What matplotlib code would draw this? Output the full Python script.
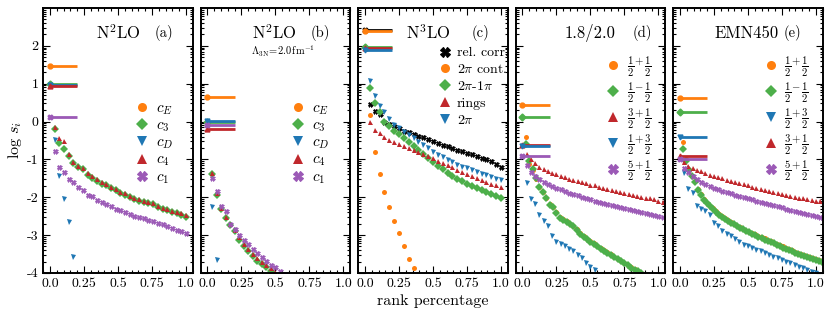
import numpy as np
import matplotlib.pyplot as plt
from matplotlib.lines import Line2D
from matplotlib.ticker import FixedLocator, MultipleLocator

plt.rcParams['font.family'] = 'serif'
plt.rcParams['font.serif'] = ['cmr10', 'DejaVu Serif']
plt.rcParams['mathtext.fontset'] = 'cm'
plt.rcParams['axes.unicode_minus'] = False

orange, green, blue, red, purple, black = '#ff7f0e', '#4daf4a', '#1f77b4', '#c0282c', '#9b59b6', 'k'

# ---------------- panel (a) : N2LO
a_labels = [r'$c_E$', r'$c_3$', r'$c_D$', r'$c_4$', r'$c_1$']
a_top = [1.47, 0.98, 0.97, 0.93, 0.12]
a_n = 29
a_cE = []
a_c3 = [-0.20, -0.56, -0.73, -0.90, -1.10, -1.20, -1.26, -1.40, -1.48, -1.57, -1.64, -1.69, -1.75, -1.82,
        -1.88, -1.93, -2.00, -2.06, -2.09, -2.12, -2.16, -2.19, -2.25, -2.31, -2.35, -2.40, -2.43, -2.46, -2.51]
a_cD = [-0.50, -1.45, -2.06, -2.66, -3.58]
a_c4 = [-0.14, -0.44, -0.51, -0.86, -1.07, -1.17, -1.22, -1.37, -1.44, -1.53, -1.61, -1.66, -1.72, -1.79,
        -1.85, -1.90, -1.97, -2.03, -2.06, -2.09, -2.13, -2.16, -2.22, -2.28, -2.32, -2.37, -2.40, -2.43, -2.48]
a_c1 = [-0.77, -1.19, -1.33, -1.51, -1.61, -1.72, -1.81, -1.93, -1.97, -2.08, -2.13, -2.17, -2.22, -2.31,
        -2.35, -2.40, -2.44, -2.50, -2.53, -2.56, -2.61, -2.64, -2.68, -2.72, -2.77, -2.81, -2.86, -2.90, -2.94]

# ---------------- panel (b) : N2LO, Lambda_3N = 2.0 fm^-1
b_top = [0.66, -0.02, 0.02, -0.20, -0.09]
b_n = 30
b_cE = []
b_c3 = [-1.39, -1.94, -2.32, -2.56, -2.74, -2.90, -3.12, -3.30, -3.43, -3.55, -3.68, -3.77, -3.85, -3.95, -4.05]
b_cD = [-2.26, -3.67]
b_c4 = [-1.35, -1.90, -2.28, -2.53, -2.70, -2.87, -3.05, -3.24, -3.36, -3.49, -3.61, -3.70, -3.79, -3.88, -3.97]
b_c1 = [-1.50, -1.84, -2.22, -2.36, -2.70, -2.85, -2.99, -3.12, -3.23, -3.37, -3.48, -3.58, -3.68, -3.79,
        -3.85, -3.94, -4.02]

# ---------------- panel (c) : N3LO
c_labels = ['rel. corr.', r'$2\pi$ cont.', r'$2\pi$-$1\pi$', 'rings', r'$2\pi$']
c_top = [2.43, 2.39, 1.98, 1.95, 1.89]
c_n = 28
c_rel = [0.47, 0.29, 0.20, 0.00, -0.06, -0.12, -0.18, -0.24, -0.28, -0.33, -0.37, -0.42, -0.47, -0.52,
         -0.56, -0.61, -0.65, -0.70, -0.74, -0.79, -0.83, -0.87, -0.92, -0.96, -1.00, -1.05, -1.12, -1.21]
c_cont = [0.16, -0.80, -1.39, -1.85, -2.26, -2.62, -2.94, -3.30, -3.64, -3.86]
c_2pi1pi = [0.89, 0.49, 0.26, 0.00, -0.12, -0.24, -0.33, -0.44, -0.53, -0.64, -0.76, -0.86, -0.97, -1.08,
            -1.17, -1.26, -1.35, -1.44, -1.51, -1.58, -1.64, -1.70, -1.76, -1.81, -1.86, -1.91, -1.96, -2.01]
c_rings = [-0.02, -0.22, -0.30, -0.42, -0.48, -0.53, -0.60, -0.64, -0.70, -0.75, -0.80, -0.86, -0.92, -0.97,
           -1.04, -1.10, -1.15, -1.21, -1.28, -1.33, -1.39, -1.44, -1.50, -1.55, -1.60, -1.64, -1.69, -1.73]
c_2pi = [1.06, 0.67, 0.41, 0.25, 0.07, -0.09, -0.18, -0.28, -0.36, -0.44, -0.53, -0.62, -0.71, -0.80,
         -0.89, -0.95, -1.02, -1.08, -1.15, -1.20, -1.24, -1.29, -1.33, -1.38, -1.42, -1.47, -1.51, -1.55]

# ---------------- panel (d) : 1.8/2.0 (partial waves)
d_labels = [r'$\frac{1}{2}^{+}\frac{1}{2}$', r'$\frac{1}{2}^{-}\frac{1}{2}$', r'$\frac{3}{2}^{+}\frac{1}{2}$',
            r'$\frac{1}{2}^{+}\frac{3}{2}$', r'$\frac{5}{2}^{+}\frac{1}{2}$']
d_top = [0.43, 0.12, -0.63, -0.64, -0.91]
d_n_pw = 40   # 1/2 channels
d_n = 32
d_o = [-0.42, -1.12, -1.28, -1.52, -1.74, -1.86, -2.03, -2.18, -2.26, -2.40, -2.52, -2.58, -2.64, -2.70,
       -2.76, -2.85, -2.95, -3.03, -3.10, -3.16, -3.22, -3.28, -3.35, -3.40, -3.46, -3.51, -3.57, -3.62,
       -3.68, -3.73, -3.78, -3.84, -3.89, -3.94, -3.99]
d_g = [-0.60, -1.05, -1.26, -1.50, -1.72, -1.87, -2.02, -2.20, -2.27, -2.42, -2.54, -2.59, -2.65, -2.72,
       -2.77, -2.86, -2.97, -3.05, -3.11, -3.17, -3.23, -3.30, -3.37, -3.42, -3.48, -3.53, -3.59, -3.64,
       -3.69, -3.74, -3.80, -3.86, -3.91, -3.96, -4.01]
d_r = [-0.86, -0.98, -1.10, -1.19, -1.26, -1.31, -1.35, -1.39, -1.44, -1.47, -1.51, -1.55, -1.58, -1.61,
       -1.63, -1.67, -1.69, -1.72, -1.75, -1.77, -1.80, -1.83, -1.85, -1.88, -1.91, -1.93, -1.96, -1.99,
       -2.01, -2.03, -2.06, -2.09, -2.13]
d_b = [-1.63, -2.04, -2.19, -2.48, -2.64, -2.77, -3.03, -3.17, -3.23, -3.30, -3.37, -3.43, -3.52, -3.61,
       -3.74, -3.83, -3.92]
d_p = [-1.15, -1.33, -1.45, -1.53, -1.60, -1.66, -1.70, -1.75, -1.79, -1.84, -1.88, -1.92, -1.95, -1.99,
       -2.01, -2.06, -2.09, -2.12, -2.15, -2.17, -2.20, -2.23, -2.25, -2.28, -2.31, -2.33, -2.36, -2.39,
       -2.41, -2.44, -2.47, -2.49, -2.53]

# ---------------- panel (e) : EMN450
e_labels = [r'$\frac{1}{2}^{+}\frac{1}{2}$', r'$\frac{1}{2}^{-}\frac{1}{2}$', r'$\frac{1}{2}^{+}\frac{3}{2}$',
            r'$\frac{3}{2}^{+}\frac{1}{2}$', r'$\frac{5}{2}^{+}\frac{1}{2}$']
e_top = [0.62, 0.25, -0.40, -0.91, -1.00]
e_n_pw = 45
e_n = 32
e_o = [-0.53, -1.00, -1.27, -1.43, -1.58, -1.77, -1.91, -2.05, -2.14, -2.22, -2.29, -2.37, -2.44, -2.50,
       -2.56, -2.60, -2.65, -2.70, -2.75, -2.79, -2.83, -2.88, -2.91, -2.94, -2.98, -3.02, -3.06, -3.09,
       -3.13, -3.16, -3.20, -3.23, -3.27, -3.30, -3.34, -3.37, -3.40, -3.44, -3.47, -3.50, -3.53, -3.56,
       -3.58, -3.61, -3.64, -3.67, -3.71]
e_g = [-0.73, -1.05, -1.29, -1.45, -1.61, -1.80, -1.93, -2.07, -2.15, -2.23, -2.30, -2.39, -2.46, -2.52,
       -2.58, -2.62, -2.67, -2.72, -2.77, -2.81, -2.85, -2.90, -2.93, -2.96, -3.00, -3.04, -3.08, -3.12,
       -3.15, -3.19, -3.22, -3.26, -3.30, -3.33, -3.37, -3.40, -3.43, -3.47, -3.50, -3.52, -3.55, -3.58,
       -3.60, -3.63, -3.65, -3.68, -3.72]
e_b = [-1.35, -1.78, -1.90, -2.24, -2.31, -2.37, -2.46, -2.68, -2.77, -2.90, -2.96, -3.03, -3.10, -3.19,
       -3.26, -3.30, -3.34, -3.39, -3.43, -3.48, -3.52, -3.57, -3.61, -3.65, -3.70, -3.74, -3.79, -3.83,
       -3.88, -3.92, -3.97, -4.01, -4.05]
e_r = [-1.07, -1.18, -1.24, -1.28, -1.32, -1.36, -1.40, -1.43, -1.47, -1.50, -1.54, -1.57, -1.60, -1.63,
       -1.66, -1.69, -1.72, -1.75, -1.78, -1.81, -1.84, -1.87, -1.89, -1.92, -1.94, -1.97, -1.99, -2.01,
       -2.03, -2.05, -2.07, -2.09, -2.11]
e_p = [-1.22, -1.33, -1.45, -1.53, -1.60, -1.66, -1.71, -1.75, -1.79, -1.83, -1.87, -1.90, -1.94, -1.97,
       -2.00, -2.03, -2.06, -2.09, -2.12, -2.15, -2.18, -2.21, -2.24, -2.27, -2.30, -2.33, -2.36, -2.38,
       -2.41, -2.44, -2.47, -2.50, -2.52]

titles = [r'N$^2$LO', r'N$^2$LO', r'N$^3$LO', '1.8/2.0', 'EMN450']
tags = ['(a)', '(b)', '(c)', '(d)', '(e)']
title_x = [0.50, 0.49, 0.47, 0.50, 0.49]
tag_x = [0.81, 0.80, 0.82, 0.85, 0.80]

fig, axes = plt.subplots(1, 5, figsize=(8.31, 3.17), dpi=100, sharey=True)
plt.subplots_adjust(left=0.052, right=0.990, bottom=0.139, top=0.975, wspace=0.053)

def panel(ax, tops, series, ns, colors, markers, labels, leg_xy, leg_sp, leg_fs, pad=0.5):
    for v, c, m in zip(tops, colors, markers):
        ax.plot([0, 0.2], [v, v], color=c, lw=2, solid_capstyle='butt', zorder=3)
        ax.plot([0], [v], marker=m, color=c, ms=3.5, zorder=3)
    for ys, n, c, m in zip(series, ns, colors, markers):
        if len(ys) == 0:
            continue
        x = np.arange(1, len(ys) + 1) / n
        ax.plot(x, ys, ls='none', marker=m, color=c, ms=3.6, mew=0.5 if m == 'X' else 0)
    handles = [Line2D([], [], ls='none', marker=m, color=c, ms=6.5, mew=0.8 if m == 'X' else 0)
               for c, m in zip(colors, markers)]
    ax.legend(handles, labels, loc='upper left', bbox_to_anchor=leg_xy, frameon=False, fontsize=leg_fs,
              handlelength=0.8, handletextpad=pad, labelspacing=leg_sp, borderpad=0)

ca = [orange, green, blue, red, purple]
ma = ['o', 'D', 'v', '^', 'X']
panel(axes[0], a_top, [a_cE, a_c3, a_cD, a_c4, a_c1], [a_n] * 5, ca, ma, a_labels, (0.57, 0.675), 0.12, 11)
panel(axes[1], b_top, [b_cE, b_c3, b_cD, b_c4, b_c1], [b_n] * 5, ca, ma, a_labels, (0.56, 0.675), 0.12, 11)
panel(axes[2], c_top, [c_rel, c_cont, c_2pi1pi, c_rings, c_2pi], [c_n] * 5,
      [black, orange, green, red, blue], ['X', 'o', 'D', '^', 'v'], c_labels, (0.50, 0.88), 0.28, 10, 0.4)
panel(axes[3], d_top, [d_o, d_g, d_r, d_b, d_p], [d_n_pw, d_n_pw, d_n, d_n, d_n],
      [orange, green, red, blue, purple], ['o', 'D', '^', 'v', 'X'], d_labels, (0.56, 0.855), 0.08, 11)
panel(axes[4], e_top, [e_o, e_g, e_b, e_r, e_p], [e_n_pw, e_n_pw, e_n, e_n, e_n],
      [orange, green, blue, red, purple], ['o', 'D', 'v', '^', 'X'], e_labels, (0.56, 0.855), 0.08, 11)

for i, ax in enumerate(axes):
    ax.set_xlim(-0.05, 1.05)
    ax.set_ylim(-4, 3.0)
    ax.set_xticks([0, 0.25, 0.5, 0.75, 1.0], ['0.0', '0.25', '0.5', '0.75', '1.0'])
    ax.xaxis.set_minor_locator(MultipleLocator(0.05))
    ax.set_yticks(range(-4, 3), ['-4', '-3', '-2', '-1', '0', '1', '2'])
    ax.yaxis.set_minor_locator(FixedLocator([k + np.log10(j) for k in range(-5, 3) for j in range(2, 10)]))
    ax.tick_params(which='both', direction='in', top=True, right=True, labelsize=10, width=0.8)
    ax.tick_params(which='major', length=5)
    ax.tick_params(which='minor', length=2.5)
    for s in ax.spines.values():
        s.set_linewidth(1.4)
    ax.text(title_x[i], 0.905, titles[i], transform=ax.transAxes, ha='center', va='center', fontsize=12)
    ax.text(tag_x[i], 0.905, tags[i], transform=ax.transAxes, ha='center', va='center', fontsize=10.5)

axes[1].text(0.55, 0.838, r'$\Lambda_{\rm 3N}\!=\!2.0\,{\rm fm}^{-1}$', transform=axes[1].transAxes,
             ha='center', va='center', fontsize=7.5)
axes[0].set_ylabel(r'$\log\,s_i$', fontsize=11.5, labelpad=2)
axes[2].set_xlabel('rank percentage', fontsize=11.5, labelpad=3)

plt.savefig('out.png', dpi=100)
